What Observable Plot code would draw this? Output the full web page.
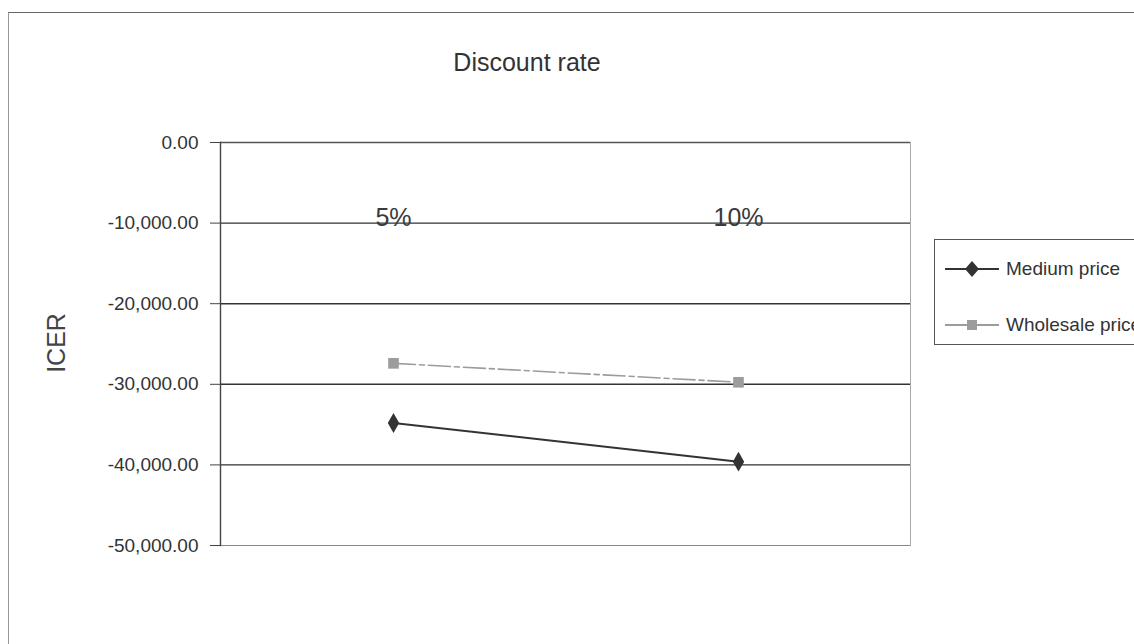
<!DOCTYPE html>
<html><head><meta charset="utf-8">
<script src="https://cdn.jsdelivr.net/npm/d3@7"></script>
<script src="https://cdn.jsdelivr.net/npm/@observablehq/plot@0.6"></script>
<style>
html,body{margin:0;padding:0;background:#fff;}
#wrap{position:relative;width:1134px;height:644px;overflow:hidden;font-family:"Liberation Sans",Arial,sans-serif;}
#border{position:absolute;left:8px;top:12px;width:1200px;height:700px;border-left:1px solid #999;border-top:1px solid #666;}
#title{position:absolute;left:0;width:1054px;top:48px;text-align:center;font-size:25px;color:#333;}
#ylab{position:absolute;left:56px;top:343px;transform:translate(-50%,-50%) rotate(-90deg);font-size:25px;color:#444;white-space:nowrap;}
#legend{position:absolute;left:934px;top:239px;width:260px;height:104px;border:1px solid #555;background:#fff;font-size:19px;color:#333;}
.li{position:absolute;left:10px;display:flex;align-items:center;white-space:nowrap;}
.li svg{margin-right:7px;}
#chart{position:absolute;left:0;top:0;}
</style></head>
<body><div id="wrap"><div id="border"></div><div id="chart"></div><div id="title"></div><div id="ylab">ICER</div><div id="legend"></div></div>
<script>
const categories = ["5%", "10%"];
const series = ["Medium price", "Wholesale price"];
const mediumValues = [-34800, -39600];
const wholesaleValues = [-27400, -29750];
const yTicks = [0, -10000, -20000, -30000, -40000, -50000];
const gridValues = [-10000, -20000, -30000, -40000];
const titleText = "Discount rate";
const colors = {"Medium price": "#333333", "Wholesale price": "#9c9c9c"};
const symbols = {"Medium price": "diamond", "Wholesale price": "square"};

document.getElementById("title").textContent = titleText;

const data = [];
categories.forEach((c, i) => {
  data.push({cat: c, series: series[0], v: mediumValues[i]});
  data.push({cat: c, series: series[1], v: wholesaleValues[i]});
});
const fmt = d => d3.format(",.2f")(d).replace("\u2212", "-");

const chart = Plot.plot({
  width: 1134, height: 644,
  marginLeft: 220, marginRight: 224, marginTop: 142, marginBottom: 99,
  style: {fontFamily: "Liberation Sans, Arial, sans-serif", fontSize: "19px", color: "#333", background: "transparent"},
  x: {domain: categories, type: "point", padding: 0.5, axis: null},
  y: {domain: [-50000, 0], axis: null},
  marks: [
    Plot.ruleY([-50000], {stroke: "#888", strokeWidth: 1.2}),
    Plot.ruleY([0], {stroke: "#555", strokeWidth: 1.3}),
    Plot.ruleY(gridValues, {stroke: "#333", strokeWidth: 1.4}),
    Plot.frame({anchor: "right", stroke: "#aaa"}),
    Plot.frame({anchor: "left", stroke: "#444", strokeWidth: 1.4}),
    Plot.axisY({ticks: yTicks, tickFormat: fmt, tickSize: 10, tickPadding: 12, fontSize: 19, stroke: "#444", fill: "#333", label: null}),
    Plot.text(categories, {x: d => d, y: () => -10000, text: d => d, fontSize: 25, fill: "#3a3a3a", dy: -5}),
    Plot.line(data.filter(d => d.series === series[1]), {x: "cat", y: "v", stroke: colors[series[1]], strokeWidth: 1.6, strokeDasharray: "22,4,5,4"}),
    Plot.line(data.filter(d => d.series === series[0]), {x: "cat", y: "v", stroke: colors[series[0]], strokeWidth: 2}),
    Plot.dot(data, {x: "cat", y: "v", symbol: d => symbols[d.series], fill: d => colors[d.series], r: 6, stroke: "none"})
  ]
});
document.getElementById("chart").appendChild(chart);

const leg = document.getElementById("legend");
series.forEach((s, i) => {
  const div = document.createElement("div");
  div.className = "li";
  div.style.top = (i === 0 ? 18 : 74) + "px";
  const marker = i === 0
    ? `<path d="M27,0 L34,8 L27,16 L20,8Z" fill="${colors[s]}"/>`
    : `<rect x="22" y="3" width="10" height="10" fill="${colors[s]}"/>`;
  div.innerHTML = `<svg width="54" height="16"><line x1="0" y1="8" x2="54" y2="8" stroke="${colors[s]}" stroke-width="1.8"/>${marker}</svg><span>${s}</span>`;
  leg.appendChild(div);
});
</script></body></html>
